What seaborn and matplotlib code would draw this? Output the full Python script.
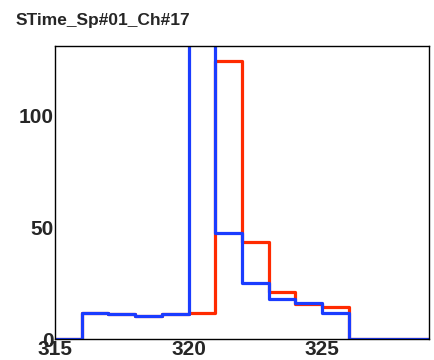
import numpy as np
import matplotlib
matplotlib.use("Agg")
import matplotlib.pyplot as plt
import seaborn as sns

# bin edges 315..329, one count per bin
edges = list(range(315, 330))
red_counts = [0, 11.7, 11.2, 10.4, 11.2, 11.7, 124.5, 43.4, 21.1, 15.6, 14.4, 0, 0, 0]
blue_counts = [0, 11.7, 11.2, 10.4, 11.2, 300, 47.2, 25.1, 17.7, 16.2, 11.5, 0, 0, 0]
title = "STime_Sp#01_Ch#17"

sns.set_style("white")
plt.rcParams['font.family'] = ['Liberation Sans', 'DejaVu Sans']

fig = plt.figure(figsize=(4.34, 3.6), dpi=100)
ax = fig.add_axes([0.1267, 0.0583, 0.8618, 0.8139])

centers = np.array(edges[:-1]) + 0.5
sns.histplot(x=centers, weights=red_counts, bins=edges, element="step", fill=False,
             color="#ff2a00", linewidth=2.3, ax=ax)
sns.histplot(x=centers, weights=blue_counts, bins=edges, element="step", fill=False,
             color="#1a3cff", linewidth=2.3, ax=ax)

ax.set_xlim(315, 329)
ax.set_ylim(0, 131)
ax.set_xticks([315, 320, 325])
ax.set_yticks([0, 50, 100])
ax.set_xlabel("")
ax.set_ylabel("")
ax.tick_params(axis="x", direction="in", length=8, width=1, pad=1, labelsize=15)
ax.tick_params(axis="y", direction="in", length=11, width=1, pad=1, labelsize=15)
for lab in ax.get_xticklabels() + ax.get_yticklabels():
    lab.set_fontweight("bold")
for s in ax.spines.values():
    s.set_color("black")
    s.set_linewidth(1.0)

fig.text(0.035, 0.942, title, fontsize=12.5, fontweight="bold", ha="left", va="center")

fig.savefig("out.png", dpi=100)
